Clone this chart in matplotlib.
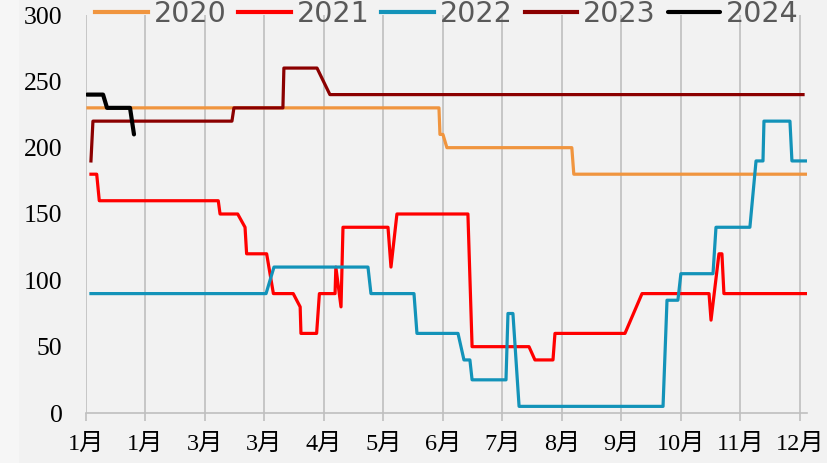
import matplotlib.pyplot as plt
from matplotlib.patches import Rectangle

plt.rcParams['font.family'] = ['Liberation Serif', 'Noto Sans CJK SC']

# day of year (0 = Jan 1) and value
d2020 = [1, 178, 178.5, 180, 182, 245, 246, 363.5]
v2020 = [230, 230, 210, 210, 200, 200, 180, 180]

d2021 = [2.5, 5.4, 6.7, 66.7, 67.6, 76.5, 80.2, 81, 91.1, 94.5, 104.5, 108, 108.4,
         116.3, 117.7, 125.6, 126, 128.6, 129.6, 152.3, 153.8, 156.8, 192.6, 194.7,
         223.4, 226.4, 235.5, 236.5, 271.8, 280.4, 314.2, 315.2, 319.2, 320.7, 321.7, 363.5]
v2021 = [180, 180, 160, 160, 150, 150, 140, 120, 120, 90, 90, 80, 60,
         60, 90, 90, 110, 80, 140, 140, 110, 150, 150, 50,
         50, 40, 40, 60, 60, 90, 90, 70, 120, 120, 90, 90]

d2022 = [2.5, 90.8, 94.8, 142.2, 143.7, 165.4, 166.9, 187.6, 190.6, 193.6, 194.7,
         211.8, 212.8, 215.3, 218.4, 291, 293, 298.5, 300, 316.2, 317.7, 334.8, 337.9,
         341.4, 341.9, 355, 356, 363.5]
v2022 = [90, 90, 110, 110, 90, 90, 60, 60, 40, 40, 25,
         25, 75, 75, 5, 5, 85, 85, 105, 105, 140, 140, 190,
         190, 220, 220, 190, 190]

d2023 = [2.5, 3.5, 73.6, 74.6, 99.3, 99.8, 116.5, 123, 361.6]
v2023 = [190, 220, 220, 230, 230, 260, 260, 240, 240]

d2024 = [0.5, 8.6, 10.6, 22.2, 24.2]
v2024 = [240, 240, 230, 230, 210]

tick_days = [0, 30, 60, 90, 120, 150, 180, 210, 240, 270, 300, 330, 360]
tick_labels = ['1月', '1月', '3月', '3月', '4月', '5月', '6月', '7月', '8月', '9月', '10月', '11月', '12月']

fig = plt.figure(figsize=(8.28, 4.63), dpi=100, facecolor='#F2F2F2')
fig.patches.append(Rectangle((0, 0), 19 / 828, 1, transform=fig.transFigure,
                             facecolor='#F6F6F6', edgecolor='none', zorder=-5))
ax = fig.add_axes([86 / 828, 50 / 463, 721 / 828, 398 / 463])
ax.set_facecolor('#F2F2F2')

ax.plot(d2020, v2020, color='#F0953F', lw=2.3, label='2020')
ax.plot(d2021, v2021, color='#FF0000', lw=2.3, label='2021')
ax.plot(d2022, v2022, color='#1393B9', lw=2.3, label='2022')
ax.plot(d2023, v2023, color='#8B0000', lw=2.3, label='2023')
ax.plot(d2024, v2024, color='#000000', lw=3, label='2024', solid_capstyle='round')

ax.set_xlim(0, 363.6)
ax.set_ylim(0, 300)
ax.set_xticks(tick_days)
ax.set_xticklabels(tick_labels)
ax.set_yticks(range(0, 301, 50))
ax.tick_params(axis='x', labelsize=17.5, length=6, width=1.2, color='#BFBFBF', pad=9)
ax.tick_params(axis='y', labelsize=18.5, length=0, pad=17)
ax.grid(axis='x', color='#BFBFBF', lw=1.2)
ax.set_axisbelow(True)
for s in ['top', 'right', 'left']:
    ax.spines[s].set_visible(False)
ax.spines['bottom'].set_color('#BFBFBF')
ax.spines['bottom'].set_linewidth(1.2)

leg = fig.legend(loc='center', bbox_to_anchor=(447 / 828, 1 - 14 / 463), ncol=5, frameon=False,
                 prop={'family': 'DejaVu Sans', 'size': 20.5}, labelcolor='#595959',
                 handlelength=1.85, handletextpad=0.2, columnspacing=0.42)
for h in leg.legend_handles:
    h.set_linewidth(3)

fig.savefig('out.png', dpi=100, facecolor=fig.get_facecolor())
